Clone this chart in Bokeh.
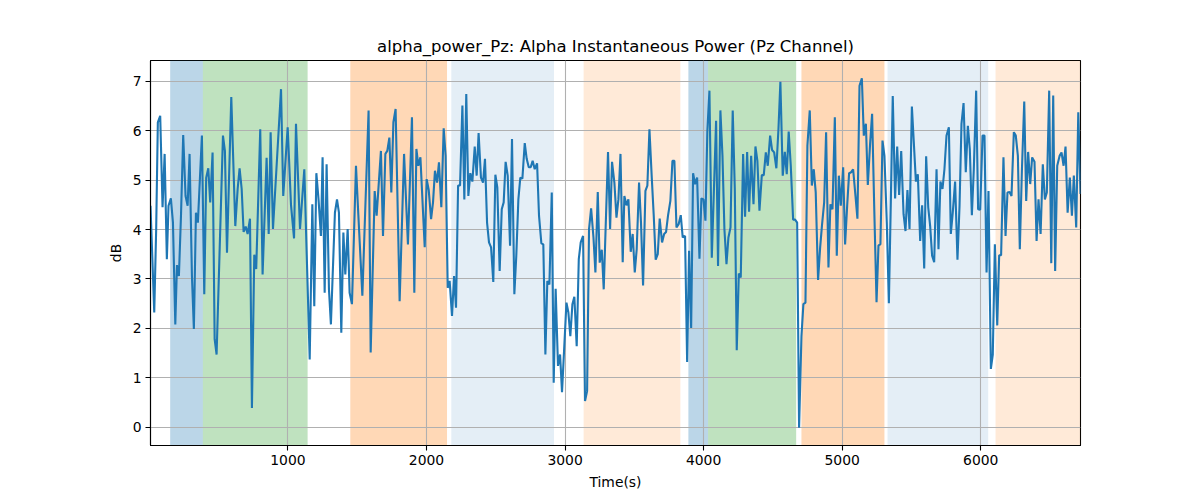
from bokeh.plotting import figure
from bokeh.models import Range1d, FixedTicker, BoxAnnotation
from bokeh.embed import file_html
from bokeh.resources import INLINE

# ---- data ----
time_s = [
    8, 35, 49, 61, 78, 95, 110, 126, 138, 155, 170, 187, 199, 213, 228, 244, 261, 276, 290, 307,
    321, 336, 350, 379, 396, 410, 425, 439, 456, 471, 485, 531, 545, 560, 591, 620, 637, 651, 666, 680,
    695, 709, 726, 740, 757, 771, 800, 817, 846, 861, 875, 892, 950, 966, 998, 1022, 1044, 1058, 1087, 1118,
    1157, 1176, 1190, 1205, 1221, 1238, 1250, 1265, 1279, 1296, 1310, 1339, 1354, 1368, 1385, 1400, 1414, 1431, 1445, 1462,
    1491, 1508, 1537, 1582, 1597, 1626, 1640, 1671, 1686, 1703, 1717, 1732, 1746, 1761, 1777, 1806, 1838, 1866, 1895, 1912,
    1927, 1941, 1956, 1987, 2001, 2016, 2033, 2047, 2061, 2076, 2090, 2107, 2124, 2138, 2153, 2167, 2184, 2199, 2213, 2228,
    2242, 2259, 2273, 2287, 2302, 2316, 2331, 2348, 2362, 2376, 2393, 2408, 2422, 2437, 2451, 2466, 2482, 2497, 2511, 2528,
    2543, 2557, 2571, 2586, 2603, 2617, 2634, 2648, 2663, 2677, 2692, 2709, 2723, 2738, 2752, 2766, 2781, 2798, 2812, 2829,
    2843, 2858, 2872, 2887, 2904, 2918, 2932, 2949, 2964, 2978, 3010, 3024, 3038, 3053, 3067, 3084, 3099, 3113, 3130, 3144,
    3159, 3173, 3188, 3205, 3219, 3236, 3250, 3265, 3279, 3294, 3310, 3325, 3339, 3356, 3371, 3385, 3400, 3416, 3428, 3443,
    3457, 3474, 3488, 3503, 3517, 3534, 3548, 3563, 3580, 3594, 3609, 3625, 3640, 3654, 3669, 3683, 3700, 3715, 3729, 3743,
    3760, 3775, 3789, 3804, 3820, 3835, 3849, 3866, 3881, 3895, 3910, 3924, 3938, 3953, 3970, 3984, 3999, 4013, 4027, 4042,
    4059, 4090, 4104, 4121, 4136, 4150, 4165, 4179, 4194, 4210, 4225, 4239, 4254, 4268, 4285, 4299, 4314, 4328, 4343, 4360,
    4374, 4388, 4403, 4420, 4434, 4449, 4463, 4480, 4494, 4509, 4525, 4540, 4554, 4571, 4586, 4600, 4614, 4629, 4646, 4660,
    4675, 4689, 4706, 4720, 4735, 4749, 4766, 4781, 4795, 4809, 4826, 4841, 4855, 4870, 4884, 4901, 4915, 4930, 4947, 4961,
    4976, 4990, 5007, 5021, 5036, 5050, 5065, 5079, 5096, 5110, 5125, 5142, 5156, 5171, 5185, 5202, 5216, 5231, 5248, 5262,
    5276, 5291, 5305, 5322, 5337, 5351, 5365, 5382, 5397, 5411, 5426, 5443, 5457, 5471, 5486, 5503, 5517, 5532, 5546, 5563,
    5577, 5592, 5606, 5621, 5635, 5649, 5664, 5681, 5695, 5709, 5724, 5738, 5753, 5770, 5784, 5798, 5815, 5832, 5847, 5861,
    5876, 5892, 5907, 5921, 5936, 5950, 5967, 5981, 5996, 6013, 6027, 6042, 6056, 6073, 6087, 6102, 6119, 6133, 6147, 6164,
    6179, 6193, 6208, 6222, 6239, 6253, 6268, 6282, 6297, 6314, 6328, 6342, 6357, 6371, 6388, 6403, 6417, 6432, 6448, 6463,
    6477, 6494, 6509, 6523, 6537, 6552, 6569, 6583, 6598, 6612, 6627, 6643, 6658, 6672, 6689, 6704, 6720,
]
power_db = [
    4.48, 2.32, 4.01, 6.17, 6.30, 4.45, 5.53, 3.40, 4.48, 4.63, 4.14, 2.08, 3.28, 3.06, 4.28, 5.91, 4.68, 4.48, 5.53, 3.06,
    1.99, 4.34, 4.14, 5.90, 2.69, 5.05, 5.24, 4.55, 5.56, 1.78, 1.47, 5.90, 5.59, 3.53, 6.68, 4.07, 4.82, 5.24, 4.82, 3.95,
    4.06, 3.91, 4.22, 0.39, 3.49, 3.20, 6.03, 3.09, 5.45, 3.91, 5.97, 4.01, 6.84, 4.68, 6.07, 4.50, 3.82, 6.14, 4.01, 5.22,
    1.37, 4.51, 2.45, 5.14, 4.60, 3.87, 5.46, 2.72, 5.32, 2.79, 2.08, 4.34, 4.61, 4.34, 1.91, 3.94, 3.09, 4.01, 2.72, 2.49,
    5.29, 4.30, 2.66, 6.41, 1.51, 4.78, 4.28, 5.59, 3.87, 5.53, 5.59, 5.86, 4.75, 6.17, 6.44, 2.55, 5.53, 3.70, 6.27, 2.72,
    5.63, 5.29, 5.46, 3.64, 5.02, 4.80, 4.21, 4.55, 5.19, 4.95, 5.36, 4.45, 6.05, 5.49, 2.82, 2.96, 2.25, 3.06, 2.42, 4.89,
    4.89, 6.51, 4.61, 6.74, 4.68, 5.14, 4.97, 5.68, 5.09, 5.95, 5.05, 4.95, 5.43, 4.14, 3.74, 3.64, 2.94, 5.11, 4.85, 3.16,
    4.41, 4.55, 5.37, 5.09, 3.67, 5.83, 2.69, 3.47, 4.61, 5.05, 5.03, 5.75, 5.43, 5.26, 5.26, 5.39, 5.22, 5.34, 4.28, 3.72,
    3.70, 1.47, 2.96, 2.89, 4.75, 0.90, 2.80, 1.24, 1.47, 0.71, 2.52, 2.32, 1.84, 2.49, 2.64, 1.64, 3.40, 3.74, 3.87, 0.53,
    0.73, 4.01, 4.43, 3.84, 3.13, 4.76, 3.33, 3.59, 2.79, 4.14, 5.57, 4.01, 5.37, 4.95, 4.24, 4.61, 5.53, 3.34, 4.68, 4.49,
    4.61, 3.55, 3.91, 3.13, 3.60, 4.95, 4.14, 2.87, 4.78, 4.89, 6.03, 5.09, 4.28, 3.39, 3.50, 4.22, 3.74, 3.91, 3.95, 4.28,
    4.58, 5.39, 5.39, 4.04, 4.11, 4.29, 3.84, 3.87, 1.32, 3.57, 2.01, 5.14, 4.92, 5.05, 3.41, 4.63, 4.61, 4.18, 6.00, 6.81,
    3.43, 6.20, 3.26, 6.41, 5.49, 4.01, 3.30, 3.84, 4.04, 6.41, 4.82, 1.56, 3.11, 3.03, 5.53, 4.26, 5.57, 4.36, 5.49, 4.51,
    5.68, 5.39, 4.38, 5.10, 5.10, 5.56, 5.29, 5.90, 5.61, 5.56, 5.24, 6.03, 6.99, 5.09, 5.57, 5.12, 5.98, 5.29, 4.20, 4.20,
    4.14, -0.01, 1.84, 2.49, 2.52, 5.70, 6.41, 4.89, 5.22, 4.75, 2.98, 3.64, 4.11, 4.55, 5.97, 3.23, 4.51, 4.41, 6.27, 3.47,
    5.09, 4.48, 5.26, 3.70, 4.48, 5.14, 5.16, 5.22, 4.68, 4.22, 6.91, 7.06, 5.90, 6.14, 4.90, 5.76, 6.34, 4.48, 2.53, 3.68,
    3.70, 5.80, 5.49, 4.14, 2.51, 4.55, 6.70, 4.63, 5.68, 4.70, 5.59, 4.31, 3.97, 4.80, 4.01, 6.49, 5.76, 4.97, 5.12, 3.77,
    4.49, 3.21, 5.48, 4.45, 4.07, 3.47, 3.34, 5.22, 3.60, 4.97, 4.82, 5.22, 5.90, 6.07, 3.91, 4.34, 4.97, 3.39, 4.48, 6.14,
    6.56, 5.16, 6.10, 5.63, 4.29, 5.22, 6.81, 4.41, 4.40, 5.90, 5.90, 3.13, 4.78, 1.18, 1.47, 3.70, 2.06, 3.48, 3.48, 5.46,
    3.87, 4.75, 4.76, 4.68, 5.97, 5.90, 5.49, 3.60, 5.19, 6.59, 4.58, 5.57, 4.92, 5.46, 5.37, 3.77, 4.61, 3.91, 5.32, 4.61,
    4.75, 6.81, 3.32, 6.71, 3.16, 5.29, 5.49, 5.56, 5.29, 5.68, 4.34, 5.05, 4.28, 5.09, 4.04, 6.37, 4.72,
]

# shaded intervals (start, end) in seconds and their colour group
span_start = [150, 386, 1450, 2179, 3134, 3890, 4032, 4706, 5327, 6107]
span_end = [386, 1142, 2148, 2920, 3832, 4032, 4668, 5305, 6054, 6720]
span_kind = ["blue", "green", "orange", "lblue", "lorange",
             "blue", "green", "orange", "lblue", "lorange"]

x_ticks = [1000, 2000, 3000, 4000, 5000, 6000]
y_ticks = [0, 1, 2, 3, 4, 5, 6, 7]

TITLE = "alpha_power_Pz: Alpha Instantaneous Power (Pz Channel)"

span_style = {
    "blue": ("#1f77b4", 0.30),
    "green": ("#2ca02c", 0.30),
    "orange": ("#ff7f0e", 0.30),
    "lblue": ("#1f77b4", 0.12),
    "lorange": ("#ff7f0e", 0.16),
}

FONT = "DejaVu Sans"

p = figure(
    frame_width=930, frame_height=385,
    min_border_left=150, min_border_right=104,
    min_border_top=60, min_border_bottom=47,
    x_range=Range1d(min(time_s), max(time_s)),
    y_range=Range1d(-0.37, 7.42),
    output_backend="svg", toolbar_location=None,
    title=TITLE,
)

for s, e, k in zip(span_start, span_end, span_kind):
    col, a = span_style[k]
    p.add_layout(BoxAnnotation(left=s, right=e, fill_color=col, fill_alpha=a,
                               line_color=None, level="image"))

p.line(time_s, power_db, line_color="#1f77b4", line_width=2.1)

p.title.align = "center"
p.title.text_font = FONT
p.title.text_font_size = "16.5px"
p.title.text_font_style = "normal"
p.title.text_color = "black"

p.xaxis.ticker = FixedTicker(ticks=x_ticks)
p.yaxis.ticker = FixedTicker(ticks=y_ticks)
p.xaxis.axis_label = "Time(s)"
p.yaxis.axis_label = "dB"

for ax in (p.xaxis, p.yaxis):
    ax.axis_label_text_font = FONT
    ax.axis_label_text_font_size = "13.9px"
    ax.axis_label_text_font_style = "normal"
    ax.axis_label_text_color = "black"
    ax.major_label_text_font = FONT
    ax.major_label_text_font_size = "13.9px"
    ax.major_label_text_color = "black"
    ax.major_tick_out = 5
    ax.major_tick_in = 0
    ax.minor_tick_line_color = None
    ax.axis_line_color = "black"
    ax.axis_line_width = 1.1
    ax.major_tick_line_width = 1.1
    ax.major_label_standoff = 4
    ax.axis_label_standoff = 6

p.xgrid.grid_line_color = "#b0b0b0"
p.ygrid.grid_line_color = "#b0b0b0"
p.xgrid.grid_line_width = 1.1
p.ygrid.grid_line_width = 1.1

p.outline_line_color = "black"
p.outline_line_width = 1.1
p.outline_line_alpha = 1.0
p.background_fill_color = "white"
p.border_fill_color = "white"

open("out.html", "w").write(file_html(p, INLINE))
